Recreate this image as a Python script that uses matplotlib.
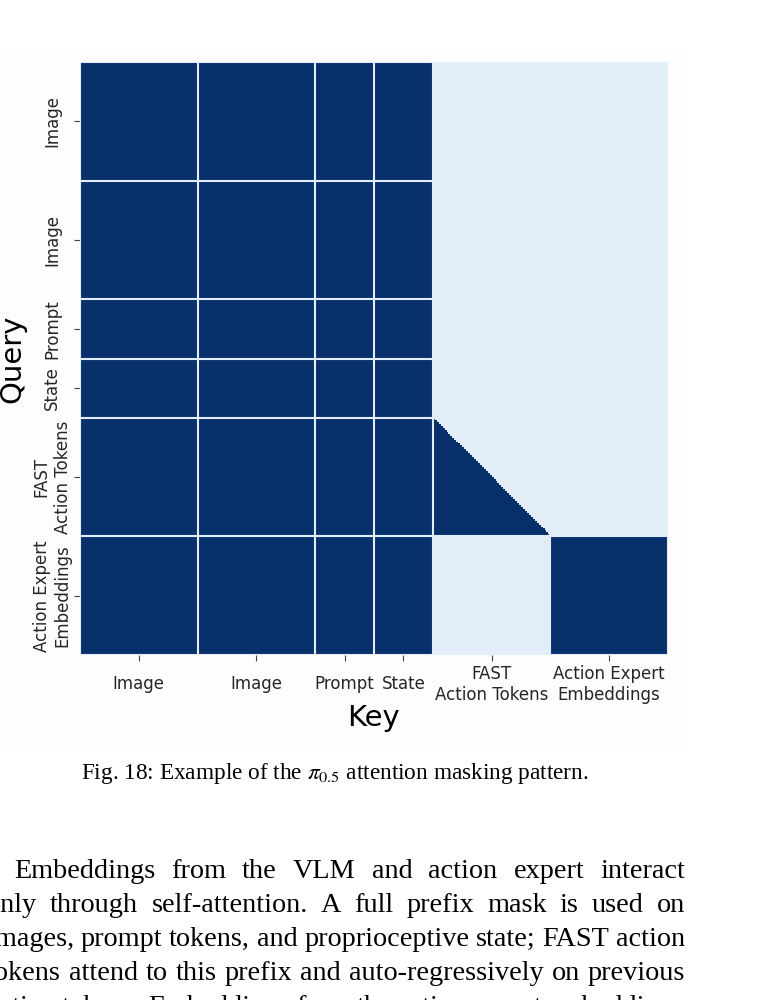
import numpy as np
import matplotlib
matplotlib.use('Agg')
import matplotlib.pyplot as plt
from matplotlib.colors import ListedColormap
from matplotlib.patches import Rectangle

plt.rcParams['mathtext.fontset'] = 'stix'

# token segments along both axes (query = rows, key = columns)
segments = ['Image', 'Image', 'Prompt', 'State', 'FAST\nAction Tokens', 'Action Expert\nEmbeddings']
seg_tokens = [60, 60, 30, 30, 60, 60]
n_prefix = 4  # images, prompt, state

caption = r'Fig. 18: Example of the $\pi_{0.5}$ attention masking pattern.'
body_lines = [
    'Embeddings from the VLM and action expert interact',
    'only through self-attention. A full prefix mask is used on',
    'images, prompt tokens, and proprioceptive state; FAST action',
    'tokens attend to this prefix and auto-regressively on previous',
    'action tokens. Embeddings from the action expert embeddings',
]

# build the attention mask
bounds = np.concatenate([[0], np.cumsum(seg_tokens)])
n = bounds[-1]
p = bounds[n_prefix]
f0, f1 = bounds[4], bounds[5]
mask = np.zeros((n, n))
mask[:, :p] = 1
mask[f0:f1, f0:f1] = np.tril(np.ones((f1 - f0, f1 - f0)))
mask[f1:, f1:] = 1

W, H = 760, 1000
fig = plt.figure(figsize=(W / 100, H / 100), dpi=100)
fig.patch.set_facecolor('white')
fig.patches.append(Rectangle((0, 1 - 750 / H), 683 / W, 701 / H, transform=fig.transFigure,
                             facecolor='#fdfdfd', edgecolor='none', zorder=-10))

ax = fig.add_axes([80 / W, 1 - 655 / H, 588 / W, 593 / H])
light = '#e3edf8'
cmap = ListedColormap([light, '#08306b'])
ax.imshow(mask, cmap=cmap, vmin=0, vmax=1, aspect='auto', interpolation='nearest',
          extent=(0, n, n, 0))
for b in bounds:
    ax.axhline(b, color=light, lw=1.5)
    ax.axvline(b, color=light, lw=1.5)
ax.set_xlim(0, n)
ax.set_ylim(n, 0)
for s in ax.spines.values():
    s.set_visible(False)

centers = (bounds[:-1] + bounds[1:]) / 2
ax.set_xticks(centers, segments, fontsize=12, color='.15', va='center')
ax.set_yticks(centers, segments, fontsize=12, color='.15', rotation=90,
              va='center', ha='center')
for lbl in ax.get_yticklabels():
    lbl.set_multialignment('center')
ax.tick_params(axis='x', length=4, width=0.8, color='#444444', pad=17)
ax.tick_params(axis='y', length=4, width=0.8, color='#444444', pad=16)

ax.set_xlabel('Key', fontsize=21, va='center')
ax.xaxis.set_label_coords(0.5, (655 - 718) / 593)
ax.set_ylabel('Query', fontsize=21, va='center')
ax.yaxis.set_label_coords((12 - 80) / 588, 0.5)

renderer = fig.canvas.get_renderer()

# caption
cap = fig.text(335 / W, 1 - 773 / H, caption, ha='center', va='center',
               family='Liberation Serif', fontsize=14)
w = cap.get_window_extent(renderer).width
cap.set_fontsize(14 * 510 / w)

# justified body text
probe = fig.text(0, 0, body_lines[3], family='Liberation Serif', fontsize=18)
bsize = 18 * 690 / probe.get_window_extent(renderer).width
probe.remove()

right = 685
baselines = [878, 912, 946, 980, 1014]
for i, line in enumerate(body_lines):
    left = 14 if i == 0 else -13
    words = line.split()
    arts = [fig.text(0, 1 - baselines[i] / H, wd, family='Liberation Serif',
                     fontsize=bsize, va='baseline') for wd in words]
    widths = [a.get_window_extent(renderer).width for a in arts]
    gap = (right - left - sum(widths)) / (len(words) - 1)
    x = left
    for a, wd in zip(arts, widths):
        a.set_x(x / W)
        x += wd + gap

fig.savefig('out.png', dpi=100)
